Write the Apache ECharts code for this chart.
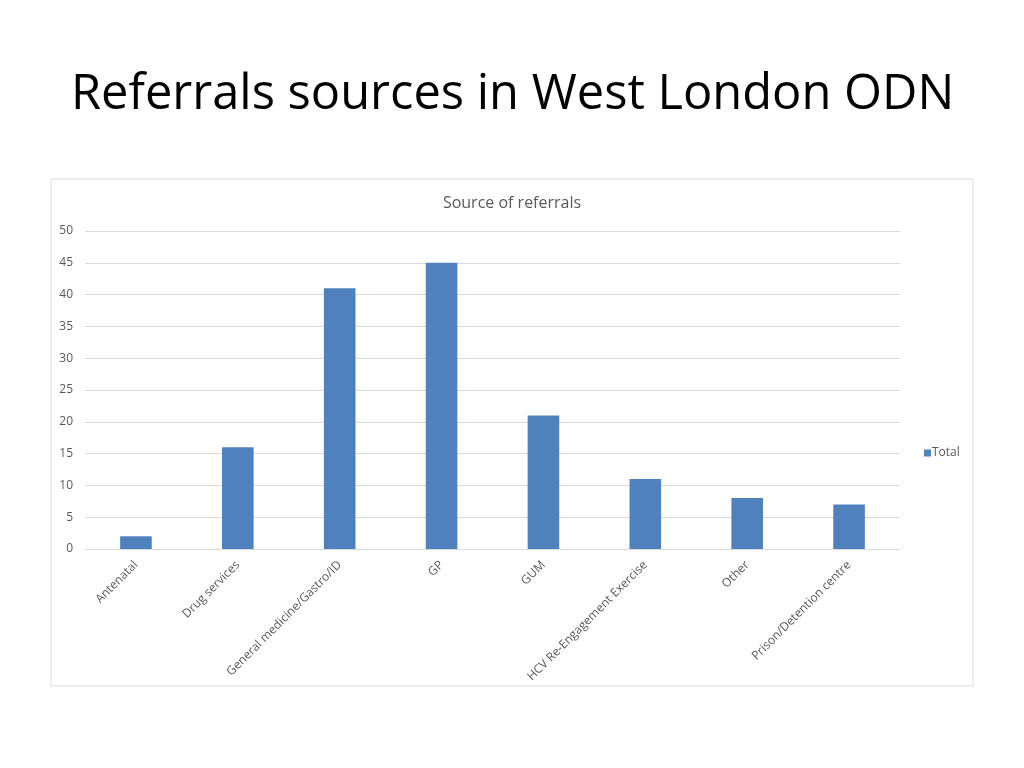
<!DOCTYPE html>
<html lang="en">
<head>
    <meta charset="UTF-8">
    <title>index</title>
    <script src="https://cdn.jsdelivr.net/npm/echarts@6/dist/echarts.min.js"></script>
    <style>
        body{ margin:0; background:#fff; }
        #main{ width:1024px; height:768px; }
    </style>
</head>
<body>
<div id="main"></div>
<script>
    var categories = ['Antenatal', 'Drug services', 'General medicine/Gastro/ID', 'GP', 'GUM',
        'HCV Re-Engagement Exercise', 'Other', 'Prison/Detention centre'];
    var totals = [2, 16, 41, 45, 21, 11, 8, 7];
    var yTicks = [0, 5, 10, 15, 20, 25, 30, 35, 40, 45, 50];

    var chart = echarts.init(document.getElementById('main'));
    var font = 'Open Sans';

    chart.setOption({
        animation: false,
        textStyle: { fontFamily: font },
        graphic: [{
            type: 'rect',
            shape: { x: 51, y: 179, width: 922, height: 507 },
            style: { fill: '#fff', stroke: '#d9d9d9', lineWidth: 1 },
            z: -1
        }],
        title: [{
            text: 'Referrals sources in West London ODN',
            left: 66, top: 66,
            textStyle: { fontSize: 48.8, fontWeight: 'normal', color: '#000', fontFamily: font }
        }, {
            text: 'Source of referrals',
            left: 'center', top: 190,
            textStyle: { fontSize: 16, fontWeight: 'normal', color: '#595959', fontFamily: font }
        }],
        legend: {
            data: ['Total'],
            orient: 'vertical',
            left: 919, top: 442,
            itemWidth: 7, itemHeight: 7,
            icon: 'rect',
            textStyle: { fontSize: 12, color: '#595959', padding: [0, 0, 0, -4] }
        },
        grid: { left: 85, right: 124, top: 231, bottom: 219 },
        xAxis: {
            type: 'category',
            data: categories,
            axisLine: { lineStyle: { color: '#d9d9d9' } },
            axisTick: { show: false },
            axisLabel: { rotate: 45, interval: 0, color: '#595959', fontSize: 12, margin: 14 }
        },
        yAxis: {
            type: 'value',
            min: yTicks[0],
            max: yTicks[yTicks.length - 1],
            interval: 5,
            axisLine: { show: false },
            axisTick: { show: false },
            axisLabel: { color: '#595959', fontSize: 12, margin: 12 },
            splitLine: { lineStyle: { color: '#d9d9d9' } }
        },
        series: [{
            name: 'Total',
            type: 'bar',
            data: totals,
            barWidth: '31%',
            itemStyle: { color: '#4f81bd' }
        }]
    });
</script>
</body>
</html>
